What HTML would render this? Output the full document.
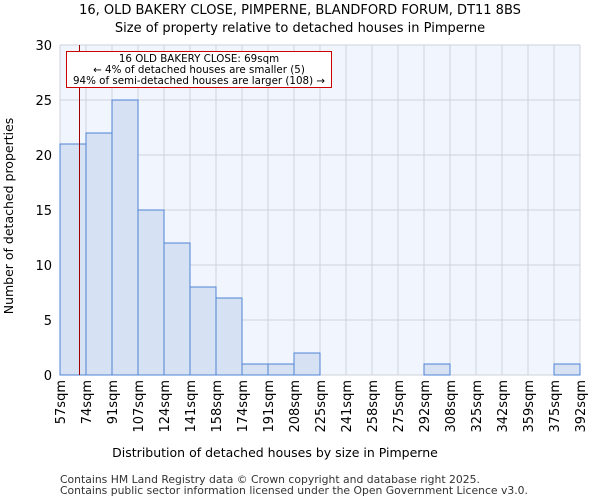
<!DOCTYPE html>
<html><head><meta charset="utf-8"><style>
body{margin:0;background:#fff;font-family:"DejaVu Sans","Liberation Sans",sans-serif;}
</style></head><body>
<svg width="600" height="500" xmlns="http://www.w3.org/2000/svg" font-family="DejaVu Sans, Liberation Sans, sans-serif" id="chart">
<text x="300" y="14" text-anchor="middle" font-size="13">16, OLD BAKERY CLOSE, PIMPERNE, BLANDFORD FORUM, DT11 8BS</text>
<text x="300" y="32" text-anchor="middle" font-size="13">Size of property relative to detached houses in Pimperne</text>
<rect x="60" y="45" width="520" height="330" fill="#f1f5fd"/>
<g id="grid"></g>
<g id="bars"></g>
<g id="axes"></g>
<line x1="79.5" y1="45" x2="79.5" y2="375" stroke="#a00000" stroke-width="1"/>
<rect x="66.5" y="51.5" width="265" height="36" fill="#fff" stroke="#cc0000"/>
<text x="199" y="62" text-anchor="middle" font-size="10.3">16 OLD BAKERY CLOSE: 69sqm</text>
<text x="199" y="73" text-anchor="middle" font-size="10.3">← 4% of detached houses are smaller (5)</text>
<text x="199" y="84" text-anchor="middle" font-size="10.3">94% of semi-detached houses are larger (108) →</text>
<text x="275" y="457" text-anchor="middle" font-size="12.5">Distribution of detached houses by size in Pimperne</text>
<text transform="translate(13,216) rotate(-90)" text-anchor="middle" font-size="12.5">Number of detached properties</text>
<text x="60" y="483" font-size="10.8" fill="#333">Contains HM Land Registry data © Crown copyright and database right 2025.</text>
<text x="60" y="494" font-size="10.8" fill="#333">Contains public sector information licensed under the Open Government Licence v3.0.</text>
</svg>
<script>
const categories=["57sqm","74sqm","91sqm","107sqm","124sqm","141sqm","158sqm","174sqm","191sqm","208sqm","225sqm","241sqm","258sqm","275sqm","292sqm","308sqm","325sqm","342sqm","359sqm","375sqm","392sqm"];
const counts=[21,22,25,15,12,8,7,1,1,2,0,0,0,0,1,0,0,0,0,1];
const yTicks=[0,5,10,15,20,25,30];
const NS="http://www.w3.org/2000/svg";
const X0=60,X1=580,Y0=375,Y1=45,YMAX=30;
const bw=(X1-X0)/counts.length;
const xs=i=>X0+i*bw;
const ys=v=>Y0-(v/YMAX)*(Y0-Y1);
function mk(tag,attrs,parent){const e=document.createElementNS(NS,tag);for(const k in attrs)e.setAttribute(k,attrs[k]);document.getElementById(parent).appendChild(e);return e;}
yTicks.forEach(t=>{
 const g=mk("line",{x1:X0,x2:X1,y1:ys(t),y2:ys(t),stroke:"#cfd2da","stroke-width":1},"grid");
 
 
 const l=mk("text",{x:X0-8,y:ys(t)+5,"text-anchor":"end","font-size":13},"axes");
 l.textContent=t;
 
 
});
categories.forEach((c,i)=>{
 const x=xs(i);
 const g=mk("line",{x1:x,x2:x,y1:Y1,y2:Y0,stroke:"#cfd2da","stroke-width":1},"grid");
 
 
 const l=mk("text",{transform:`translate(${x+5},380) rotate(-90)`,"text-anchor":"end","font-size":13},"axes");
 l.textContent=c;
 
 
});
counts.forEach((v,i)=>{
 if(v<=0)return;
 const r=mk("rect",{x:xs(i),y:ys(v),width:bw,height:Y0-ys(v),fill:"#d6e1f4",stroke:"#4f84d4","stroke-width":1},"bars");
 
 
});
</script>
</body></html>
